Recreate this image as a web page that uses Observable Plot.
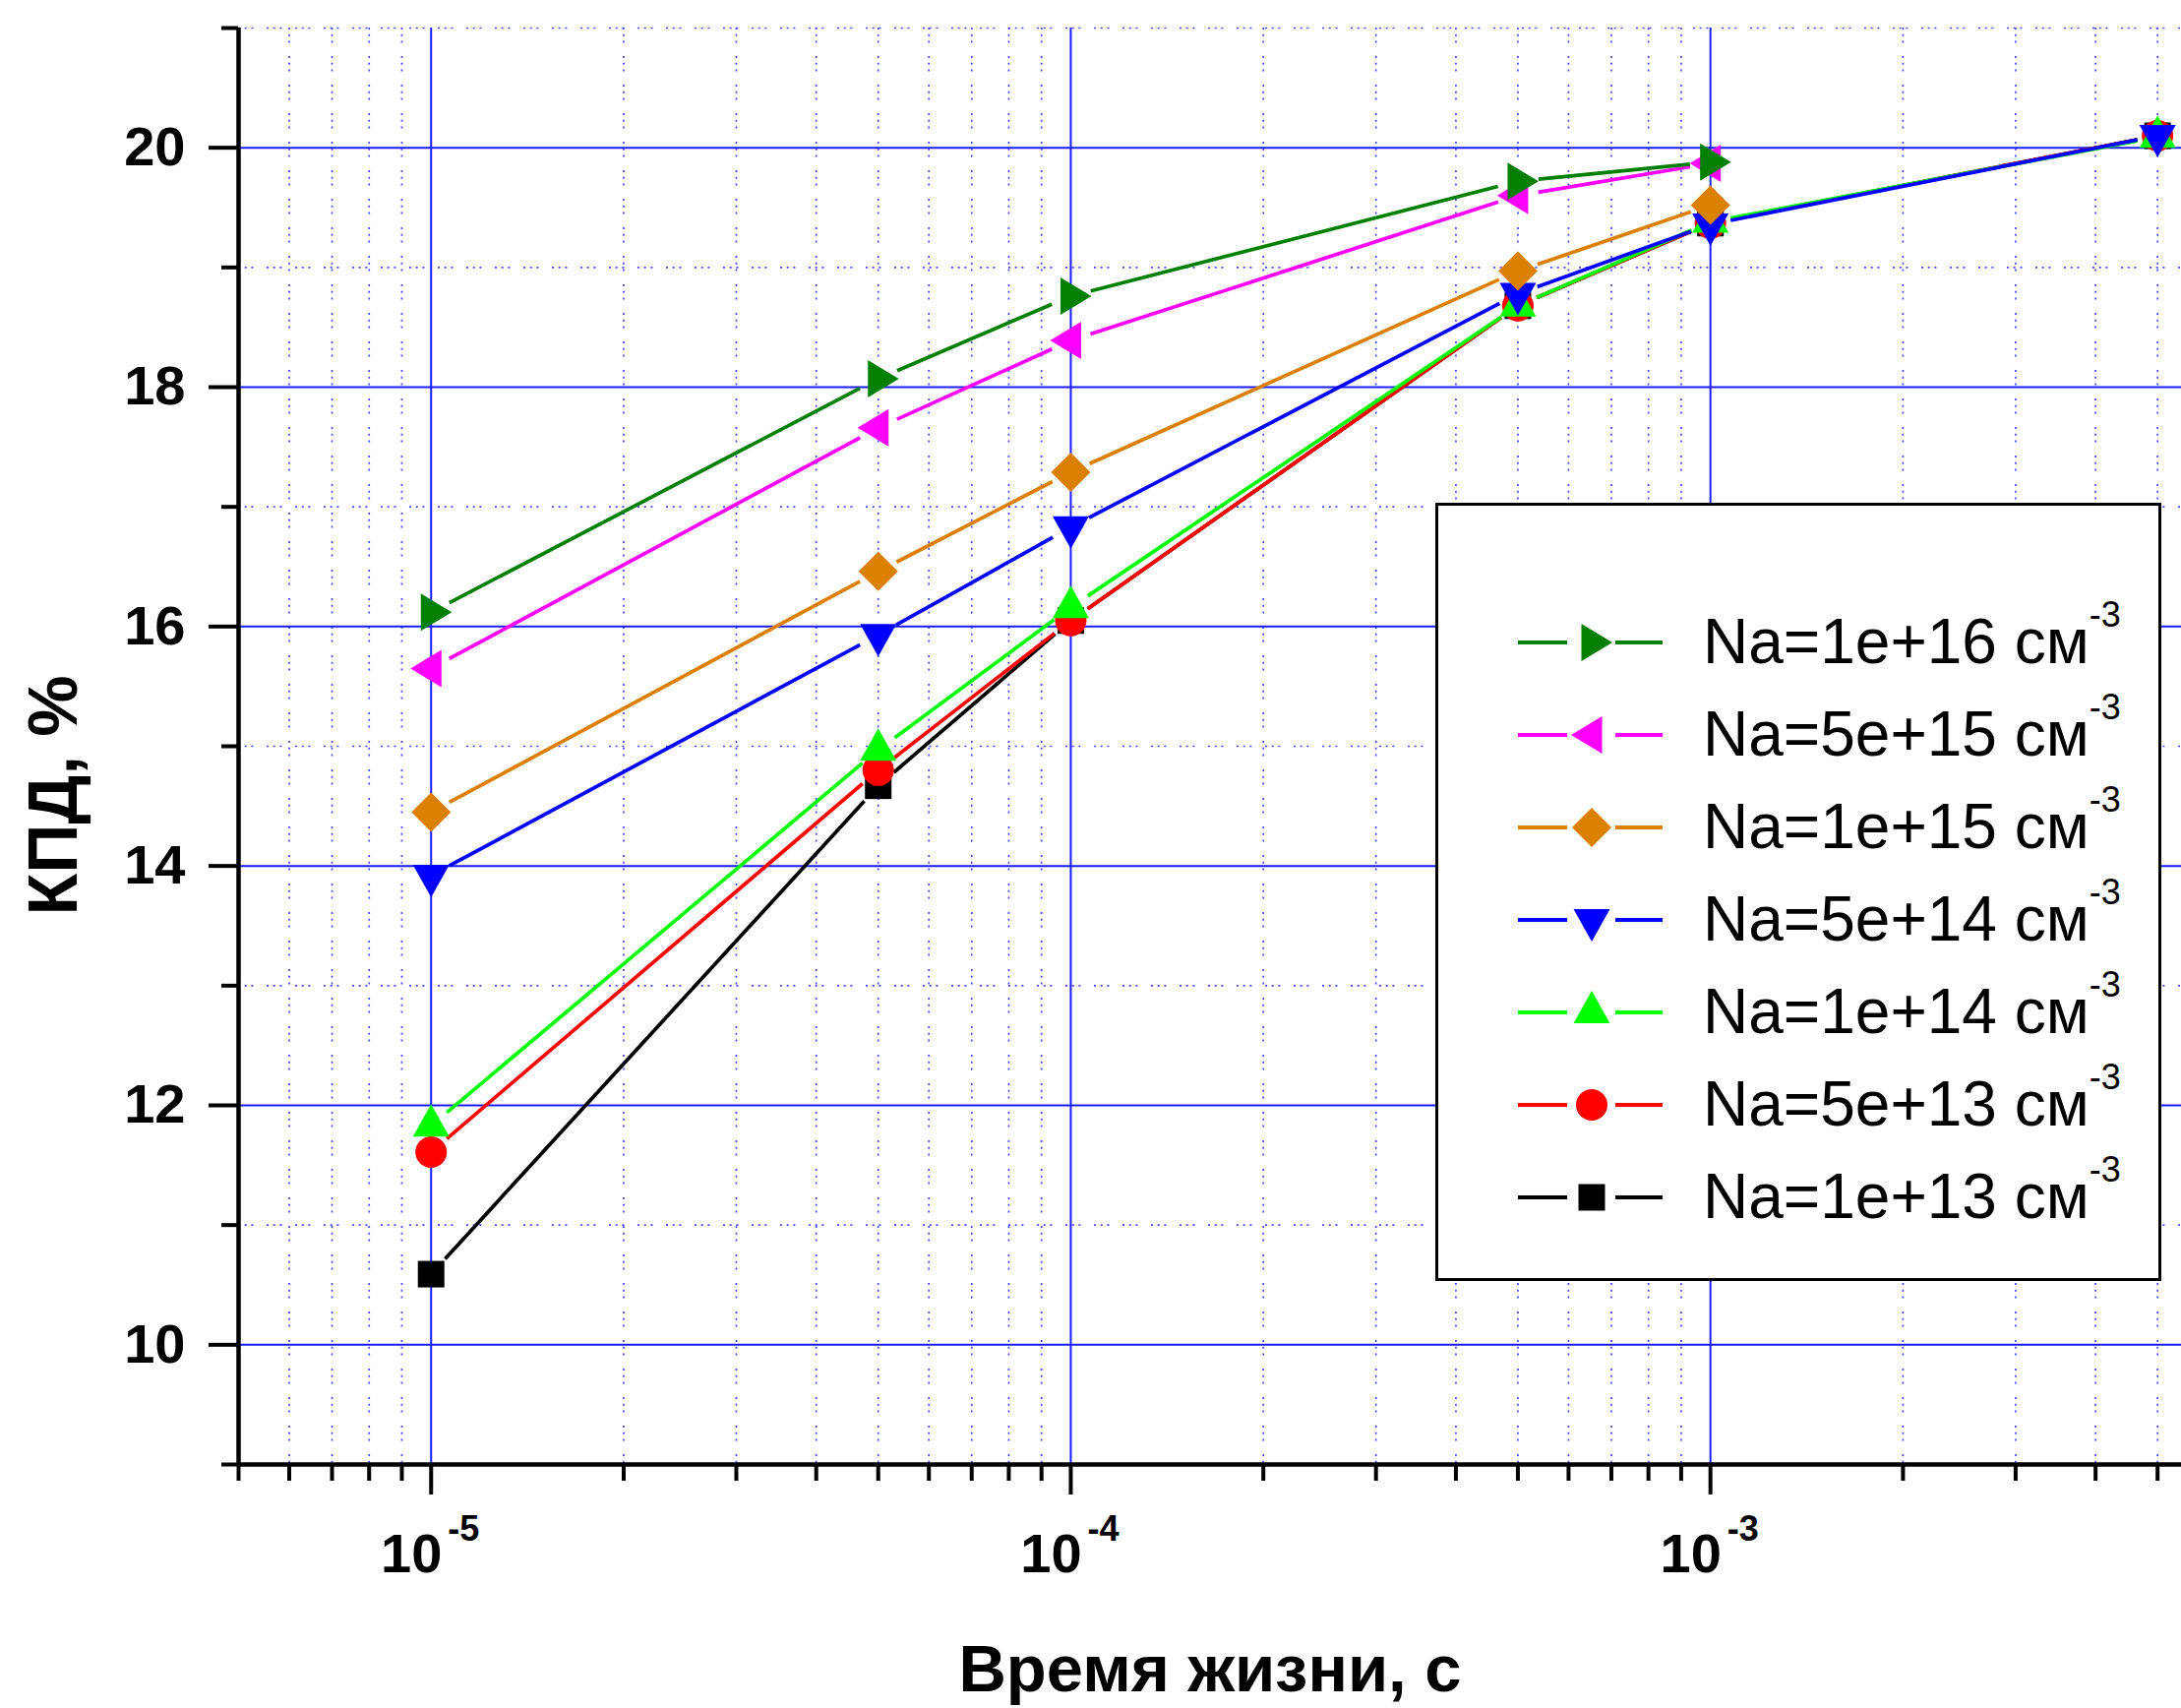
<!DOCTYPE html>
<html><head><meta charset="utf-8">
<script src="https://cdn.jsdelivr.net/npm/d3@7"></script>
<script src="https://cdn.jsdelivr.net/npm/@observablehq/plot@0.6"></script>
<style>
html,body{margin:0;padding:0;background:#fff;}
#wrap{position:relative;width:2217px;height:1736px;overflow:hidden;}
</style></head><body><div id="wrap"></div>
<script>
// ---- data ----
const lifetimes = [1e-5, 5e-5, 1e-4, 5e-4, 1e-3, 5e-3];
const seriesNames = ["Na=1e+16 см", "Na=5e+15 см", "Na=1e+15 см", "Na=5e+14 см", "Na=1e+14 см", "Na=5e+13 см", "Na=1e+13 см"];
const seriesUnitExp = "-3";
const eff_1e16 = [16.12, 18.07, 18.76, 19.72, 19.88];
const eff_5e15 = [15.65, 17.66, 18.39, 19.60, 19.87];
const eff_1e15 = [14.45, 16.46, 17.29, 18.97, 19.52];
const eff_5e14 = [13.92, 15.93, 16.83, 18.78, 19.36, 20.10];
const eff_1e14 = [11.83, 14.97, 16.16, 18.68, 19.38, 20.09];
const eff_5e13 = [11.61, 14.80, 16.05, 18.68, 19.37, 20.10];
const eff_1e13 = [10.59, 14.67, 16.05, 18.68, 19.37, 20.10];
const seriesColors = ["#007F00", "#FF00FF", "#DB8000", "#0000FF", "#00FF00", "#FF0000", "#000000"];
const xMajorTicks = [1e-5, 1e-4, 1e-3];
const xTickBase = "10";
const xTickExps = ["-5", "-4", "-3"];
const xMinorTicks = [5e-6, 6e-6, 7e-6, 8e-6, 9e-6, 2e-5, 3e-5, 4e-5, 5e-5, 6e-5, 7e-5, 8e-5, 9e-5,
  2e-4, 3e-4, 4e-4, 5e-4, 6e-4, 7e-4, 8e-4, 9e-4, 2e-3, 3e-3, 4e-3, 5e-3];
const yMajorTicks = [10, 12, 14, 16, 18, 20];
const yTickLabels = ["10", "12", "14", "16", "18", "20"];
const yMinorTicks = [9, 11, 13, 15, 17, 19, 21];
const xDomain = [5e-6, 5.45e-3];
const yDomain = [9, 21];
const xTitle = "Время жизни, с";
const yTitle = "КПД, %";

// ---- symbols ----
function poly(pts) {
  return {draw(ctx, size) {
    const k = Math.sqrt(size / Math.PI) / 19;
    ctx.moveTo(pts[0][0] * k, pts[0][1] * k);
    for (const p of pts.slice(1)) ctx.lineTo(p[0] * k, p[1] * k);
    ctx.closePath();
  }};
}
const symRight = poly([[-10.5, -19], [21, 0], [-10.5, 19]]);
const symLeft = poly([[10.5, -19], [-21, 0], [10.5, 19]]);
const symDiamond = poly([[0, -20], [20, 0], [0, 20], [-20, 0]]);
const symDown = poly([[-18.5, -11], [18.5, -11], [0, 22]]);
const symUp = poly([[0, -22], [18.5, 11], [-18.5, 11]]);
const symCircle = {draw(ctx, size) { const r = Math.sqrt(size / Math.PI) / 19 * 16; ctx.moveTo(r, 0); ctx.arc(0, 0, r, 0, 2 * Math.PI); ctx.closePath(); }};
const symSquare = poly([[-13.5, -13.5], [13.5, -13.5], [13.5, 13.5], [-13.5, 13.5]]);
const seriesSymbols = [symRight, symLeft, symDiamond, symDown, symUp, symCircle, symSquare];
const seriesValues = [eff_1e16, eff_5e15, eff_1e15, eff_5e14, eff_1e14, eff_5e13, eff_1e13];

const series = seriesNames.map((name, i) => ({name, values: seriesValues[i], color: seriesColors[i], symbol: seriesSymbols[i]}));

const layout = {
  width: 2217,
  height: 1736,
  marginLeft: 242,
  marginRight: 0,
  marginTop: 28,
  marginBottom: 248,
  x: {type: "log", domain: xDomain, axis: null},
  y: {domain: yDomain, axis: null}
};

// probe plot to obtain the library's scales (for Origin-style gaps near markers)
const probe = Plot.plot({...layout, marks: [Plot.dot(lifetimes, {x: d => d, y: () => yDomain[0]})]});
const sx = probe.scale("x"), sy = probe.scale("y");
const GAP = 21;
function trimmedSegments(pts) {
  const out = [];
  for (let i = 0; i + 1 < pts.length; i++) {
    const ax = sx.apply(pts[i].t), ay = sy.apply(pts[i].eff);
    const bx = sx.apply(pts[i + 1].t), by = sy.apply(pts[i + 1].eff);
    const dx = bx - ax, dy = by - ay, L = Math.hypot(dx, dy) || 1, f = Math.min(GAP / L, 0.45);
    out.push({
      t1: sx.invert(ax + dx * f), e1: sy.invert(ay + dy * f),
      t2: sx.invert(bx - dx * f), e2: sy.invert(by - dy * f)
    });
  }
  return out;
}

const marks = [
  Plot.ruleX(xMinorTicks, {stroke: "#4848ff", strokeWidth: 1.7, strokeDasharray: "2,4.7,2,4.7,2,13.6"}),
  Plot.ruleY(yMinorTicks, {stroke: "#4848ff", strokeWidth: 1.7, strokeDasharray: "2,4.7,2,4.7,2,13.6"}),
  Plot.ruleX(xMajorTicks, {stroke: "#1a1aff", strokeWidth: 2}),
  Plot.ruleY(yMajorTicks, {stroke: "#1a1aff", strokeWidth: 2})
];
for (const s of [...series].reverse()) {
  const pts = s.values.map((v, i) => ({t: lifetimes[i], eff: v}));
  marks.push(Plot.link(trimmedSegments(pts), {x1: "t1", y1: "e1", x2: "t2", y2: "e2", stroke: s.color, strokeWidth: 3.7}));
  marks.push(Plot.dot(pts, {x: "t", y: "eff", symbol: s.symbol, fill: s.color, r: 19}));
}
marks.push(
  Plot.axisY(yMajorTicks, {tickSize: 30, tickPadding: 24, tickFormat: (d, i) => yTickLabels[i], fontSize: 56, fontWeight: "bold", strokeWidth: 4, color: "black", label: null}),
  Plot.axisY(yMinorTicks, {tickSize: 17, tickFormat: () => "", strokeWidth: 4, color: "black", label: null}),
  Plot.axisX(xMajorTicks, {tickSize: 31, tickFormat: () => "", strokeWidth: 4, color: "black", label: null}),
  Plot.axisX(xMinorTicks, {tickSize: 17, tickFormat: () => "", strokeWidth: 4, color: "black", label: null}),
  Plot.ruleX([xDomain[0]], {stroke: "black", strokeWidth: 4.5}),
  Plot.ruleY([yDomain[0]], {stroke: "black", strokeWidth: 4.5}),
  Plot.text(xMajorTicks, {x: d => d, frameAnchor: "bottom", text: () => xTickBase, dx: -20, dy: 92, lineAnchor: "middle", textAnchor: "middle", fontSize: 56, fontWeight: "bold", fill: "black"}),
  Plot.text(xMajorTicks, {x: d => d, frameAnchor: "bottom", text: (d, i) => xTickExps[i], dx: 17, dy: 66, lineAnchor: "middle", textAnchor: "start", fontSize: 36, fontWeight: "bold", fill: "black"}),
  Plot.text([xTitle], {text: d => d, frameAnchor: "bottom", dy: 230, lineAnchor: "bottom", textAnchor: "middle", fontSize: 67, fontWeight: "bold", fill: "black"}),
  Plot.text([yTitle], {text: d => d, frameAnchor: "left", rotate: -90, dx: -165, dy: 50, lineAnchor: "bottom", textAnchor: "middle", fontSize: 70, fontWeight: "bold", fill: "black"})
);

const chart = Plot.plot({
  ...layout,
  style: {fontFamily: "'Liberation Sans', Arial, sans-serif", background: "white", color: "black", overflow: "visible"},
  marks
});
const wrap = document.getElementById("wrap");
wrap.appendChild(chart);

// ---- legend ----
const lg = d3.select(wrap).append("svg")
  .attr("width", 738).attr("height", 791)
  .style("position", "absolute").style("left", "1459px").style("top", "511px")
  .style("font-family", "'Liberation Sans', Arial, sans-serif");
lg.append("rect").attr("x", 1.5).attr("y", 1.5).attr("width", 735).attr("height", 788)
  .attr("fill", "white").attr("stroke", "black").attr("stroke-width", 3);
series.forEach((s, i) => {
  const g = lg.append("g").attr("transform", `translate(0,${142 + i * 94})`);
  g.append("line").attr("x1", 84).attr("x2", 134).attr("y1", 0).attr("y2", 0).attr("stroke", s.color).attr("stroke-width", 4);
  g.append("line").attr("x1", 183).attr("x2", 231).attr("y1", 0).attr("y2", 0).attr("stroke", s.color).attr("stroke-width", 4);
  const p = d3.path(); s.symbol.draw(p, Math.PI * 19 * 19);
  g.append("path").attr("d", p.toString()).attr("transform", "translate(159,0)").attr("fill", s.color);
  const t = g.append("text").attr("x", 272).attr("y", 21).attr("font-size", 64).attr("fill", "black");
  t.append("tspan").text(s.name);
  t.append("tspan").attr("dy", -37).attr("font-size", 36).text(seriesUnitExp);
});
</script>
</body></html>
